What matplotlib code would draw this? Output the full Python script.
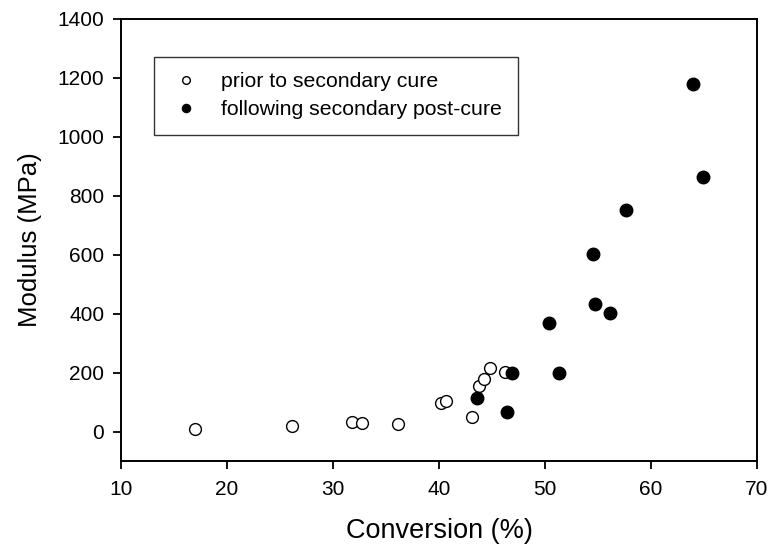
import matplotlib
matplotlib.use("Agg")
import matplotlib.pyplot as plt

plt.rcParams['font.family'] = ['Liberation Sans', 'DejaVu Sans']

# Data
prior_x = [17.0, 26.1, 31.8, 32.7, 36.1, 40.2, 40.7, 43.1, 43.8, 44.2, 44.8, 46.2]
prior_y = [10, 20, 33, 29, 24, 98, 103, 50, 154, 178, 217, 201]

post_x = [43.6, 46.9, 46.4, 50.4, 51.3, 54.5, 54.7, 56.1, 57.6, 64.0, 64.9]
post_y = [114, 197, 65, 368, 198, 603, 434, 401, 753, 1178, 863]

x_ticks = [10, 20, 30, 40, 50, 60, 70]
y_ticks = [0, 200, 400, 600, 800, 1000, 1200, 1400]

fig = plt.figure(figsize=(7.68, 5.54), dpi=100)
ax = fig.add_axes([121/768, 1 - 461/554, (757 - 121)/768, (461 - 19)/554])

ax.plot(prior_x, prior_y, linestyle='none', marker='o', markersize=8.5,
        markerfacecolor='white', markeredgecolor='black', markeredgewidth=1.0,
        label='prior to secondary cure', zorder=3)
ax.plot(post_x, post_y, linestyle='none', marker='o', markersize=9,
        markerfacecolor='black', markeredgecolor='black', markeredgewidth=1.0,
        label='following secondary post-cure', zorder=3)

ax.set_xlim(10, 70)
ax.set_ylim(-100, 1400)
ax.set_xticks(x_ticks)
ax.set_yticks(y_ticks)
ax.tick_params(direction='out', length=6, width=1.3, labelsize=15, pad=8)
ax.tick_params(axis='y', pad=6)
for s in ax.spines.values():
    s.set_linewidth(1.4)

ax.set_xlabel('Conversion (%)', fontsize=19.5, labelpad=13)
ax.set_ylabel('Modulus (MPa)', fontsize=18.5, labelpad=11)

leg = ax.legend(loc='upper left', bbox_to_anchor=(154/768, 1 - 57/554),
                bbox_transform=fig.transFigure, borderaxespad=0,
                fontsize=15.3, markerscale=0.65, frameon=True, fancybox=False,
                edgecolor='black', handlelength=1.6, handletextpad=0.85,
                borderpad=0.72, labelspacing=0.42)
leg.get_frame().set_linewidth(1.0)

fig.savefig('out.png', dpi=100)
